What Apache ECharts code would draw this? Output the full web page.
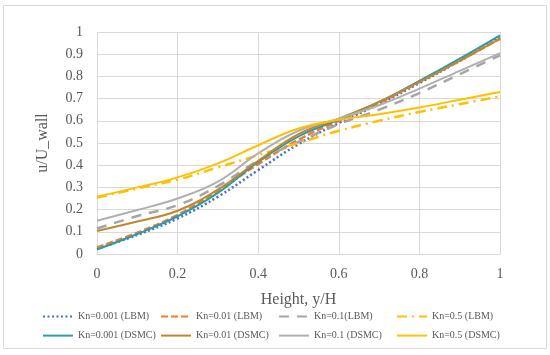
<!DOCTYPE html>
<html>
<head>
<meta charset="utf-8">
<script src="https://cdn.jsdelivr.net/npm/echarts@6/dist/echarts.min.js"></script>
<style>html,body{margin:0;padding:0;background:#fff}#c{width:550px;height:355px}</style>
</head>
<body>
<div id="c"></div>
<script>
var heights = [0, 0.1, 0.2, 0.3, 0.4, 0.5, 0.6, 0.7, 0.8, 0.9, 1];
var xTicks = [0, 0.2, 0.4, 0.6, 0.8, 1];
var yTicks = [0, 0.1, 0.2, 0.3, 0.4, 0.5, 0.6, 0.7, 0.8, 0.9, 1];

var lbm0001 = [0.023, 0.086, 0.16, 0.258, 0.378, 0.495, 0.59, 0.675, 0.77, 0.87, 0.975];
var lbm001  = [0.03, 0.096, 0.176, 0.285, 0.405, 0.515, 0.6, 0.68, 0.775, 0.87, 0.97];
var lbm01   = [0.115, 0.171, 0.22, 0.306, 0.42, 0.505, 0.585, 0.65, 0.725, 0.81, 0.895];
var lbm05   = [0.254, 0.295, 0.335, 0.39, 0.445, 0.5, 0.555, 0.6, 0.64, 0.675, 0.71];
var dsmc0001 = [0.02, 0.09, 0.17, 0.275, 0.415, 0.53, 0.605, 0.685, 0.78, 0.88, 0.985];
var dsmc001  = [0.104, 0.146, 0.195, 0.29, 0.42, 0.54, 0.61, 0.685, 0.775, 0.87, 0.97];
var dsmc01   = [0.15, 0.198, 0.25, 0.326, 0.453, 0.555, 0.61, 0.67, 0.745, 0.825, 0.905];
var dsmc05   = [0.258, 0.30, 0.345, 0.408, 0.49, 0.565, 0.605, 0.63, 0.66, 0.695, 0.73];

var names = ['Kn=0.001 (LBM)', 'Kn=0.01 (LBM)', 'Kn=0.1(LBM)', 'Kn=0.5 (LBM)',
             'Kn=0.001 (DSMC)', 'Kn=0.01 (DSMC)', 'Kn=0.1 (DSMC)', 'Kn=0.5 (DSMC)'];
var values = [lbm0001, lbm001, lbm01, lbm05, dsmc0001, dsmc001, dsmc01, dsmc05];
var colors = ['#4472C4', '#ED7D31', '#A5A5A5', '#FFC000', '#2F9BA8', '#C0872F', '#B0B0B0', '#FFC000'];
var dashes = [[2, 2.5], [7, 3], [10, 8], [10, 5, 2, 5], 'solid', 'solid', 'solid', 'solid'];
var widths = [2.5, 2.5, 2.5, 2.5, 2, 2, 2, 2];

var FONT = 'Liberation Serif';
var series = names.map(function (n, i) {
  return {
    name: n, type: 'line', smooth: 0.4, symbol: 'none',
    data: heights.map(function (h, j) { return [h, values[i][j]]; }),
    lineStyle: { color: colors[i], width: widths[i], type: dashes[i] },
    itemStyle: { color: colors[i] },
    z: 2 + i
  };
});

var cols = [42, 160, 278, 396];
var rows = [311, 330];
var legends = names.map(function (n, i) {
  return {
    data: [n], left: cols[i % 4], top: rows[Math.floor(i / 4)], padding: 0,
    itemWidth: 30, itemHeight: 14, selectedMode: false,
    itemStyle: { color: 'rgba(0,0,0,0)', borderColor: 'rgba(0,0,0,0)', borderWidth: 0 },
    lineStyle: { width: 2 },
    textStyle: { fontFamily: FONT, fontSize: 10, color: '#595959' }
  };
});

var chart = echarts.init(document.getElementById('c'));
chart.setOption({
  animation: false,
  backgroundColor: '#fff',
  graphic: [{
    type: 'rect', shape: { x: 3.5, y: 5.5, width: 543, height: 343 },
    style: { fill: 'none', stroke: '#D9D9D9', lineWidth: 1 }, z: -1
  }],
  grid: { left: 97, top: 32, width: 403, height: 222 },
  legend: legends,
  xAxis: {
    type: 'value', min: xTicks[0], max: xTicks[xTicks.length - 1], interval: xTicks[1] - xTicks[0],
    name: 'Height, y/H', nameLocation: 'middle', nameGap: 38,
    nameTextStyle: { fontFamily: FONT, fontSize: 16, color: '#595959' },
    axisLine: { show: true, lineStyle: { color: '#D9D9D9' } },
    axisTick: { show: false },
    splitLine: { show: true, lineStyle: { color: '#D9D9D9' } },
    axisLabel: { margin: 13, fontFamily: FONT, fontSize: 14, color: '#595959' }
  },
  yAxis: {
    type: 'value', min: yTicks[0], max: yTicks[yTicks.length - 1], interval: 0.1,
    name: 'u/U_wall', nameLocation: 'middle', nameGap: 46,
    nameTextStyle: { fontFamily: FONT, fontSize: 16, color: '#595959' },
    axisLine: { show: true, lineStyle: { color: '#D9D9D9' } },
    axisTick: { show: false },
    splitLine: { show: true, lineStyle: { color: '#D9D9D9' } },
    axisLabel: { margin: 14, fontFamily: FONT, fontSize: 14, color: '#595959' }
  },
  series: series
});
</script>
</body>
</html>
